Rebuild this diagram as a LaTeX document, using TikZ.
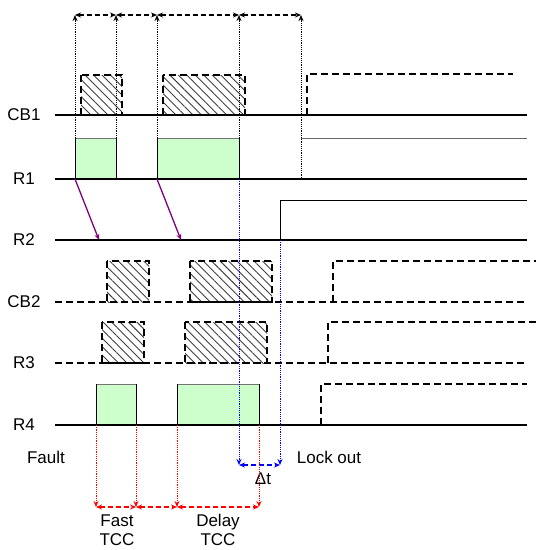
\documentclass[tikz,border=0pt]{standalone}
\usepackage{fontspec}
\setmainfont{Liberation Sans}
\usetikzlibrary{patterns.meta,arrows.meta}
\definecolor{lgreen}{HTML}{CCFFCC}
\definecolor{tblue}{HTML}{0000FF}
\definecolor{tred}{HTML}{FF0000}
\definecolor{tpurple}{HTML}{800080}
\begin{document}
\begin{tikzpicture}[x=1pt,y=-1pt,
  lbl/.style={font=\fontsize{17}{19}\selectfont, inner sep=0pt},
  base/.style={line width=1.3pt},
  dbase/.style={line width=1.6pt, dash pattern=on 7pt off 4pt},
  hatchbox/.style={dbase, pattern={Lines[angle=-45,distance=6pt,line width=0.9pt]}, pattern color=black!75},
  greenfill/.style={fill=lgreen},
  dotln/.style={line width=1pt, dash pattern=on 1.2pt off 1pt},
  tip/.style={-{Stealth[length=6pt,width=5pt]}},
  dtip/.style={{Stealth[length=6pt,width=5pt]}-{Stealth[length=6pt,width=5pt]}},
  dashar/.style={line width=1.3pt, dash pattern=on 5pt off 3pt}
]
\useasboundingbox (0,0) rectangle (536,550);

% labels
\node[lbl] (lCB1) at (24,115) {CB1};
\node[lbl] (lR1) at (24,179) {R1};
\node[lbl] (lR2) at (24,240) {R2};
\node[lbl] (lCB2) at (24,302) {CB2};
\node[lbl] (lR3) at (24,363) {R3};
\node[lbl] (lR4) at (24,425) {R4};
\node[lbl] (fault) at (46,457) {Fault};
\node[lbl] (lock) at (329,457) {Lock out};
\node[lbl] (dt) at (263,479) {Δt};
\node[lbl, align=center] (fast) at (117,530) {Fast\\TCC};
\node[lbl, align=center] (delay) at (218,530) {Delay\\TCC};

% green boxes R1
\fill[greenfill] (75,138) rectangle (116,179);
\fill[greenfill] (157,138) rectangle (239,179);
\draw[black!55, line width=1pt] (75,138) -- (116,138) (157,138) -- (239,138);
\draw[line width=1pt] (75,138) -- (75,179) (116,138) -- (116,179) (157,138) -- (157,179) (239,138) -- (239,179);
% green boxes R4
\fill[greenfill] (96,384) rectangle (136,425);
\fill[greenfill] (177,384) rectangle (259,425);
\draw[black!55, line width=1pt] (96,384) -- (136,384) (177,384) -- (259,384);
\draw[line width=1pt] (96,384) -- (96,425) (136,384) -- (136,425) (177,384) -- (177,425) (259,384) -- (259,425);

% hatched boxes
\draw[hatchbox] (81,75) rectangle (122,115);
\draw[hatchbox] (163,75) rectangle (245,115);
\draw[hatchbox] (107,261) rectangle (149,302);
\draw[hatchbox] (190,261) rectangle (272,302);
\draw[hatchbox] (102,322) rectangle (144,363);
\draw[hatchbox] (185,322) rectangle (267,363);

% baselines
\draw[base] (55,115) -- (527,115);
\draw[base] (55,179) -- (527,179);
\draw[base] (55,240) -- (527,240);
\draw[dbase] (55,302) -- (527,302);
\draw[dbase] (55,363) -- (527,363);
\draw[base] (55,425) -- (527,425);

% steps
\draw[dbase] (307,115) -- (307,74) -- (513,74);
\draw[black!60, line width=1pt] (301,138) -- (527,138);
\draw[line width=1pt] (280,240) -- (280,200) -- (527,200);
\draw[dbase] (333,302) -- (333,261) -- (536,261);
\draw[dbase] (328,363) -- (328,322) -- (536,322);
\draw[dbase] (321,425) -- (321,384) -- (527,384);

% top timing arrows
\coordinate (t1) at (75,15);
\coordinate (t2) at (116,15);
\coordinate (t3) at (157,15);
\coordinate (t4) at (239,15);
\coordinate (t5) at (301,15);
\foreach \x in {75,116,157,239,301}
  \draw[dotln, tip] (\x,180) -- (\x,15);
\draw[dashar, dtip] (t1) -- (t2);
\draw[dashar, dtip] (t2) -- (t3);
\draw[dashar, dtip] (t3) -- (t4);
\draw[dashar, dtip] (t4) -- (t5);

% purple arrows
\draw[tpurple, line width=1.3pt, tip] (75,179) -- (99,240);
\draw[tpurple, line width=1.3pt, tip] (157,179) -- (181,240);

% blue
\coordinate (b1) at (239,465);
\coordinate (b2) at (280,465);
\draw[tblue, dotln, tip] (239,179) -- (b1);
\draw[tblue, dotln, tip] (280,240) -- (b2);
\draw[tblue, dashar, dtip] (b1) -- (b2);

% red
\coordinate (r1) at (96,507);
\coordinate (r2) at (136,507);
\coordinate (r3) at (177,507);
\coordinate (r4) at (259,507);
\foreach \x in {96,136,177,259}
  \draw[tred, dotln, tip] (\x,425) -- (\x,507);
\draw[tred, dashar, dtip] (r1) -- (r2);
\draw[tred, dashar, dtip] (r2) -- (r3);
\draw[tred, dashar, dtip] (r3) -- (r4);
\end{tikzpicture}
\end{document}
